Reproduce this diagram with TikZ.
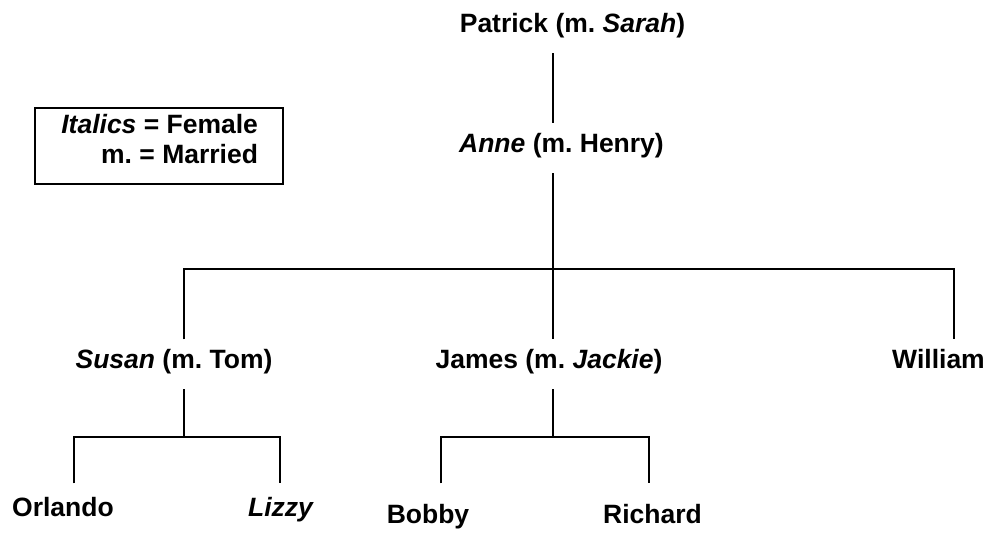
\documentclass[tikz,border=0pt]{standalone}
\usepackage{fontspec}
\setmainfont{Liberation Sans}
\frenchspacing
\begin{document}
\begin{tikzpicture}[x=1pt,y=-1pt,
  lbl/.style={font=\fontsize{26.5}{30}\selectfont\bfseries, inner sep=0pt, outer sep=0pt, anchor=base},
  tie/.style={line width=1.7pt}]
\useasboundingbox (0,0) rectangle (986,533);
% people
\node[lbl] (patrick) at (572.5,32) {Patrick (m. \textit{Sarah})};
\node[lbl] (anne) at (561.5,152) {\textit{Anne} (m. Henry)};
\node[lbl] (susan) at (174,368) {\textit{Susan} (m. Tom)};
\node[lbl] (james) at (549,368) {James (m. \textit{Jackie})};
\node[lbl] (william) at (938.5,368) {William};
\node[lbl] (orlando) at (63,516) {Orlando};
\node[lbl] (lizzy) at (281,516) {\textit{Lizzy}};
\node[lbl] (bobby) at (428,523) {Bobby};
\node[lbl] (richard) at (652.5,523) {Richard};
% legend
\node[draw, line width=1.7pt, minimum width=248pt, minimum height=76pt, inner sep=0pt] (legend) at (159,146) {};
\node[lbl, anchor=base east] (leg1) at (258,133) {\textit{Italics} = Female};
\node[lbl, anchor=base east] (leg2) at (258,163) {m. = Married};
% junctions
\coordinate (b1w) at (184,269); \coordinate (b1c) at (553,269); \coordinate (b1e) at (954,269);
\coordinate (b2w) at (74,437);  \coordinate (b2c) at (184,437); \coordinate (b2e) at (280,437);
\coordinate (b3w) at (441,437); \coordinate (b3c) at (553,437); \coordinate (b3e) at (649,437);
% connectors
\draw[tie, shorten <=15.5pt, shorten >=9.4pt] (patrick.south -| b1c) -- (anne.north -| b1c);
\draw[tie, shorten <=15.5pt, shorten >=9.4pt] (anne.south -| b1c) -- (james.north -| b1c);
\draw[tie, shorten <=9.4pt, shorten >=9.4pt] (susan.north -| b1w) -- (b1w) -- (b1e) -- (william.north -| b1e);
\draw[tie, shorten <=15.5pt] (susan.south -| b2c) -- (b2c);
\draw[tie, shorten <=13.4pt, shorten >=13.4pt] (orlando.north -| b2w) -- (b2w) -- (b2e) -- (lizzy.north -| b2e);
\draw[tie, shorten <=15.5pt] (james.south -| b3c) -- (b3c);
\draw[tie, shorten <=20.4pt, shorten >=20.4pt] (bobby.north -| b3w) -- (b3w) -- (b3e) -- (richard.north -| b3e);
\end{tikzpicture}
\end{document}
